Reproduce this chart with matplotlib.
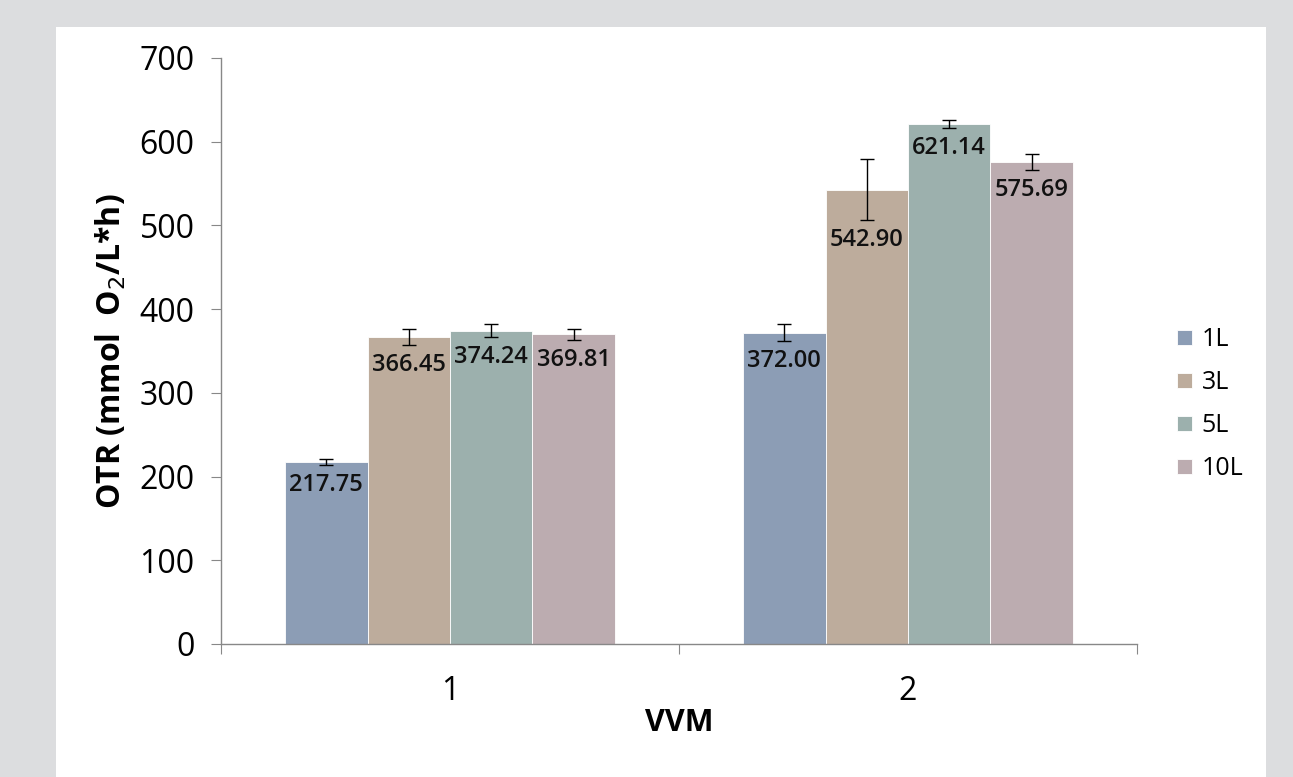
import matplotlib
matplotlib.use("Agg")
import matplotlib.pyplot as plt
import numpy as np
from matplotlib.patches import Rectangle

categories = ["1", "2"]
series = ["1L", "3L", "5L", "10L"]
values = {
    "1L": [217.75, 372.00],
    "3L": [366.45, 542.90],
    "5L": [374.24, 621.14],
    "10L": [369.81, 575.69],
}
errors = {
    "1L": [3.5, 10.5],
    "3L": [9.5, 36.5],
    "5L": [7.5, 4.8],
    "10L": [6.5, 9.6],
}
colors = {"1L": "#8c9db5", "3L": "#bdac9c", "5L": "#9cb0ad", "10L": "#bcacb0"}
yticks = [0, 100, 200, 300, 400, 500, 600, 700]

plt.rcParams['font.family'] = ['Open Sans', 'DejaVu Sans']

W, H = 1293, 777
fig = plt.figure(figsize=(W / 100, H / 100), dpi=100)
fig.patch.set_facecolor("#dcdddf")
fig.patches.append(Rectangle((56 / W, 0), (1266 - 56) / W, (777 - 27) / H,
                             transform=fig.transFigure, facecolor="white",
                             edgecolor="none", zorder=-10))

ax = fig.add_axes([221 / W, (777 - 644) / H, (1137 - 221) / W, (644 - 58) / H])
ax.set_facecolor("white")
ax.set_zorder(1)

x = np.arange(len(categories)) + 0.5
bw = 0.18
n = len(series)
for i, s in enumerate(series):
    xs = x + (i - (n - 1) / 2) * bw
    ax.bar(xs, values[s], width=bw, color=colors[s], edgecolor="white",
           linewidth=0.6, label=s, zorder=2)
    ax.errorbar(xs, values[s], yerr=errors[s], fmt="none", ecolor="black",
                elinewidth=1, capsize=5, capthick=1, zorder=3)
    for xi, v, e in zip(xs, values[s], errors[s]):
        ax.annotate(f"{v:.2f}", (xi, v - e), xytext=(0, -20), textcoords="offset pixels",
                    ha="center", va="center", fontsize=17, fontweight="semibold",
                    color="#111111", zorder=4)

ax.set_xlim(0, 2)
ax.set_ylim(0, 700)
ax.set_yticks(yticks)
ax.set_yticklabels([str(t) for t in yticks], fontsize=23)
ax.set_xticks([0, 1, 2], minor=False)
ax.set_xticklabels([])
ax.set_xticks(x, minor=True)
ax.set_xticklabels(categories, minor=True, fontsize=23)
ax.tick_params(axis="x", which="minor", length=0, pad=22)
ax.tick_params(axis="x", which="major", length=7, color="#888888", direction="out")
ax.tick_params(axis="y", length=7, color="#888888", direction="out", pad=12)
for sp in ["top", "right"]:
    ax.spines[sp].set_visible(False)
for sp in ["left", "bottom"]:
    ax.spines[sp].set_color("#888888")
    ax.spines[sp].set_linewidth(1)

ax.set_ylabel("OTR (mmol  O$_2$/L*h)", fontsize=23, fontweight="bold", labelpad=8)
ax.set_xlabel("VVM", fontsize=22, fontweight="bold", labelpad=0)

leg = fig.legend(loc="center left", bbox_to_anchor=(1154 / W, 1 - 404 / H), frameon=False,
                 fontsize=18, handlelength=0.6, handleheight=0.55, handletextpad=0.4,
                 labelspacing=0.72)

fig.savefig("out.png", dpi=100, facecolor=fig.get_facecolor())
